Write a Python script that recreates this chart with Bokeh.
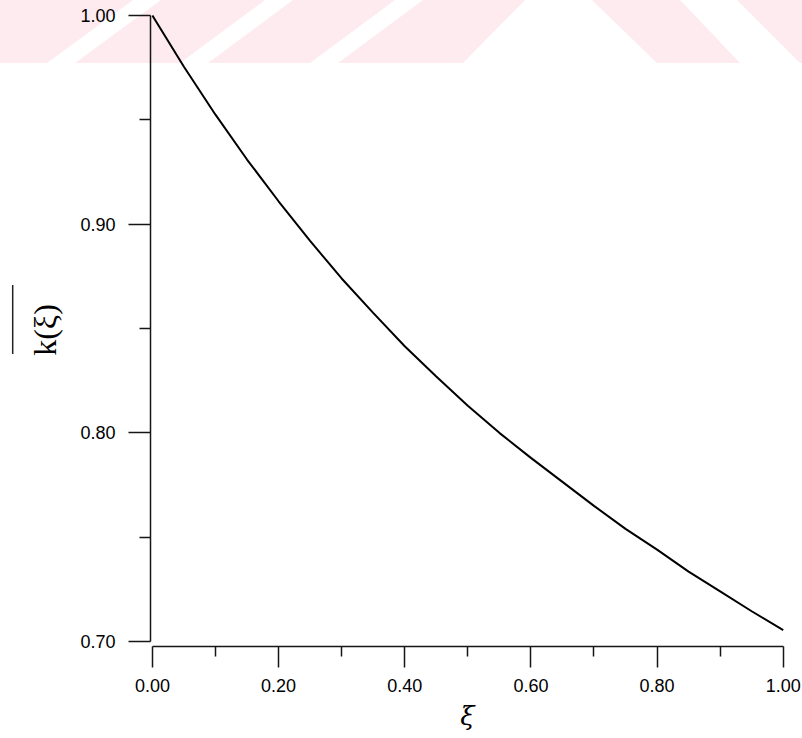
from urllib.parse import quote
from bokeh.plotting import figure
from bokeh.models import FixedTicker, Range1d, PrintfTickFormatter
from bokeh.embed import file_html
from bokeh.resources import INLINE

# ---- data ----
xi = [0.00, 0.05, 0.10, 0.15, 0.20, 0.25, 0.30, 0.35, 0.40, 0.45, 0.50,
      0.55, 0.60, 0.65, 0.70, 0.75, 0.80, 0.85, 0.90, 0.95, 1.00]
k_bar = [1.000, 0.9755, 0.9525, 0.931, 0.911, 0.892, 0.874, 0.8575, 0.8415, 0.827, 0.813,
         0.800, 0.788, 0.7765, 0.765, 0.754, 0.744, 0.7335, 0.724, 0.7145, 0.7055]

x_major = [0.0, 0.2, 0.4, 0.6, 0.8, 1.0]
x_minor = [0.1, 0.3, 0.5, 0.7, 0.9]
x_tick_labels = ["0.00", "0.20", "0.40", "0.60", "0.80", "1.00"]
y_major = [0.70, 0.80, 0.90, 1.00]
y_minor = [0.75, 0.85, 0.95]
y_tick_labels = ["0.70", "0.80", "0.90", "1.00"]
x_label = "ξ"
y_label = "k(ξ)"

# page decoration of the scanned source (pixels): watermark band and the y-label overline
WATERMARK_XS = [[0, 133, 47, 0], [161, 265, 180, 75], [293, 395, 310, 208],
                [423, 525, 463, 338], [592, 680, 740, 657], [737, 802, 802, 800]]
WATERMARK_YS = [[0, 0, 63, 63]] * 6
OVERLINE = (12.7, 285, 354)

W, H = 802, 738

shapes = []
for xs, ys in zip(WATERMARK_XS, WATERMARK_YS):
    pts = " ".join(f"{a},{b}" for a, b in zip(xs, ys))
    shapes.append(f'<polygon points="{pts}" fill="#fdebef"/>')
ox, oy0, oy1 = OVERLINE
shapes.append(f'<line x1="{ox}" y1="{oy0}" x2="{ox}" y2="{oy1}" stroke="#222" stroke-width="1.5"/>')
svg_bg = (f'<svg xmlns="http://www.w3.org/2000/svg" width="{W}" height="{H}">'
          + "".join(shapes) + "</svg>")
bg_url = 'url("data:image/svg+xml,' + quote(svg_bg) + '")'

p = figure(width=W, height=H, output_backend="svg", toolbar_location=None,
           x_range=Range1d(-0.003, 1.002), y_range=Range1d(0.6976, 1.001),
           min_border_left=150, min_border_right=18, min_border_top=13, min_border_bottom=92)
p.outline_line_color = None
p.grid.visible = False
p.background_fill_color = None
p.border_fill_color = None
p.styles = {"background-color": "white", "background-image": bg_url,
            "background-repeat": "no-repeat", "background-position": "0 0"}

p.line(xi, k_bar, line_color="black", line_width=2)

ink = "#161616"
xa = p.xaxis[0]
xa.ticker = FixedTicker(ticks=x_major, minor_ticks=x_minor)
xa.formatter = PrintfTickFormatter(format="%.2f")
xa.major_label_overrides = {v: s for v, s in zip(x_major, x_tick_labels)}
xa.bounds = (0, 1)
ya = p.yaxis[0]
ya.ticker = FixedTicker(ticks=y_major, minor_ticks=y_minor)
ya.formatter = PrintfTickFormatter(format="%.2f")
ya.major_label_overrides = {v: s for v, s in zip(y_major, y_tick_labels)}
ya.bounds = (0.7, 1.0)

for ax in (xa, ya):
    ax.axis_line_color = ink
    ax.axis_line_width = 1.5
    ax.major_tick_line_color = ink
    ax.major_tick_line_width = 1.5
    ax.minor_tick_line_color = ink
    ax.minor_tick_line_width = 1.5
    ax.major_tick_in = 0
    ax.minor_tick_in = 0
    ax.major_label_text_font = "Liberation Sans"
    ax.major_label_text_font_size = "18px"
    ax.major_label_text_color = "black"
    ax.axis_label_text_color = "black"

xa.major_tick_out = 21
xa.minor_tick_out = 10
xa.major_label_standoff = 11
ya.major_tick_out = 22
ya.minor_tick_out = 11
ya.major_label_standoff = 13

xa.axis_label = x_label
xa.axis_label_text_font = "DejaVu Serif"
xa.axis_label_text_font_style = "italic"
xa.axis_label_text_font_size = "26px"
xa.axis_label_standoff = 6

ya.axis_label = y_label
ya.axis_label_text_font = "Liberation Serif"
ya.axis_label_text_font_style = "normal"
ya.axis_label_text_font_size = "32px"
ya.axis_label_standoff = 14

open("out.html", "w").write(file_html(p, INLINE))
